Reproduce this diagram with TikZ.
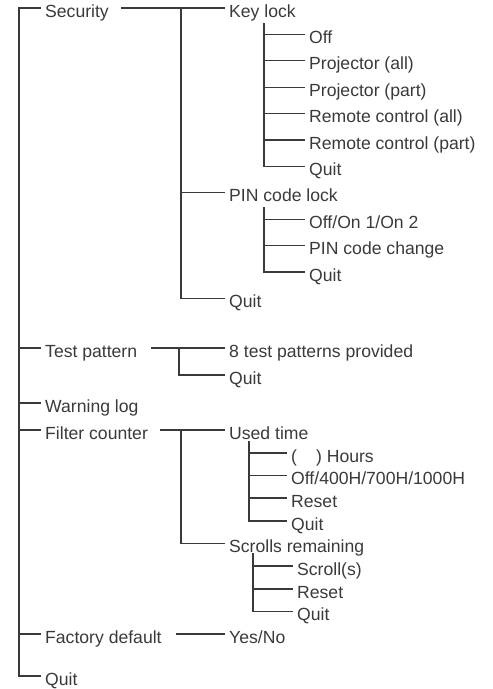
\documentclass[tikz,border=0pt]{standalone}
\usepackage{fontspec}
\setmainfont{Liberation Sans}
\definecolor{txtc}{HTML}{3A3A3A}
\definecolor{linec}{HTML}{3A3A3A}
\begin{document}
\begin{tikzpicture}[x=1pt,y=-1pt,
  item/.style={anchor=west, inner xsep=4pt, inner ysep=0pt, text height=18pt, text depth=0pt,
               font=\fontsize{17.6}{20}\selectfont, text=txtc},
  wire/.style={draw=linec, line width=1.1pt}]
\useasboundingbox (0,0) rectangle (493,689);

% level 0
\node[item] (sec)   at (41,8)   {Security};
\node[item] (test)  at (41,348) {Test pattern};
\node[item] (warn)  at (41,403) {Warning log};
\node[item] (filt)  at (41,430) {Filter counter};
\node[item] (fact)  at (41,634) {Factory default};
\node[item] (quitA) at (41,676) {Quit};

% level 1
\node[item] (key)   at (225,8)     {Key lock};
\node[item] (pin)   at (225,192.8) {PIN code lock};
\node[item] (quitB) at (225,298.4) {Quit};
\node[item] (pat)   at (225,348)   {8 test patterns provided};
\node[item] (quitC) at (225,375)   {Quit};
\node[item] (used)  at (225,430)   {Used time};
\node[item] (scr)   at (225,543.5) {Scrolls remaining};
\node[item] (yes)   at (225,634)   {Yes/No};

% key lock items
\node[item] (k1) at (305,34.4)  {Off};
\node[item] (k2) at (305,60.8)  {Projector (all)};
\node[item] (k3) at (305,87.2)  {Projector (part)};
\node[item] (k4) at (305,113.6) {Remote control (all)};
\node[item] (k5) at (305,140)   {Remote control (part)};
\node[item] (k6) at (305,166.4) {Quit};
% pin items
\node[item] (p1) at (305,219.2) {Off/On 1/On 2};
\node[item] (p2) at (305,245.6) {PIN code change};
\node[item] (p3) at (305,272)   {Quit};
% used time items
\node[item] (u1) at (287,453)   {(\hspace{19pt}) Hours};
\node[item] (u2) at (287,475.5) {Off/400H/700H/1000H};
\node[item] (u3) at (287,498)   {Reset};
\node[item] (u4) at (287,521)   {Quit};
% scrolls items
\node[item] (s1) at (293,566)   {Scroll(s)};
\node[item] (s2) at (293,589)   {Reset};
\node[item] (s3) at (293,611.5) {Quit};

% bus coordinates
\coordinate (trunk) at (19,0);
\coordinate (sbus) at (181,0);
\coordinate (tbus) at (179,0);
\coordinate (fbus) at (181,0);
\coordinate (kbus) at (264,23);
\coordinate (pbus) at (264,207);
\coordinate (ubus) at (249,441);
\coordinate (cbus) at (253,553);

% trunk
\draw[wire] (sec.west) -| (trunk |- quitA.west) -- (quitA.west);
\foreach \n in {test,warn,filt,fact} \draw[wire] (trunk |- \n.west) -- (\n.west);

% security
\draw[wire] ([xshift=8pt]sec.east) -- (key.west);
\draw[wire] (sbus |- key.west) |- (quitB.west);
\draw[wire] (sbus |- pin.west) -- (pin.west);
\draw[wire] (kbus) |- (k6.west);
\foreach \n in {k1,k2,k3,k4,k5} \draw[wire] (kbus |- \n.west) -- (\n.west);
\draw[wire] (pbus) |- (p3.west);
\foreach \n in {p1,p2} \draw[wire] (pbus |- \n.west) -- (\n.west);

% test pattern
\draw[wire] ([xshift=10pt]test.east) -- (pat.west);
\draw[wire] (tbus |- pat.west) |- (quitC.west);

% filter counter
\draw[wire] ([xshift=8pt]filt.east) -- (used.west);
\draw[wire] (fbus |- used.west) |- (scr.west);
\draw[wire] (ubus) |- (u4.west);
\foreach \n in {u1,u2,u3} \draw[wire] (ubus |- \n.west) -- (\n.west);
\draw[wire] (cbus) |- (s3.west);
\foreach \n in {s1,s2} \draw[wire] (cbus |- \n.west) -- (\n.west);

% factory default
\draw[wire] ([xshift=10pt]fact.east) -- (yes.west);
\end{tikzpicture}
\end{document}
